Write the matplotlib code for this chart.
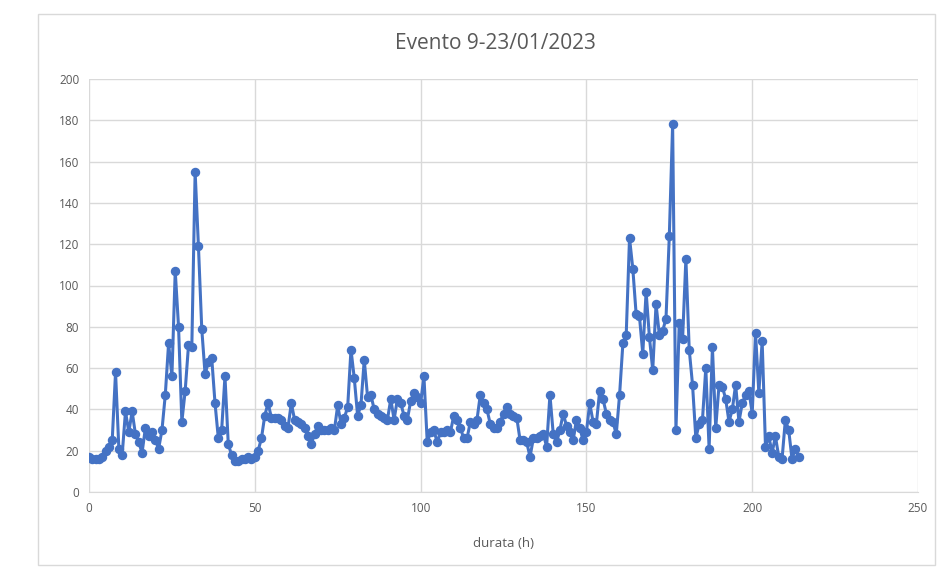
import matplotlib
matplotlib.use("Agg")
import matplotlib.pyplot as plt
from matplotlib.patches import Rectangle

# portata oraria, evento 9-23/01/2023
ore = list(range(0, 215))
valori = [
    17, 16, 16, 16, 17, 20, 22, 25, 58, 21,
    18, 39, 29, 39, 28, 24, 19, 31, 27, 29,
    25, 21, 30, 47, 72, 56, 107, 80, 34, 49,
    71, 70, 155, 119, 79, 57, 63, 65, 43, 26,
    30, 56, 23, 18, 15, 15, 16, 16, 17, 16,
    17, 20, 26, 37, 43, 36, 36, 36, 35, 32,
    31, 43, 35, 34, 33, 31, 27, 23, 28, 32,
    30, 30, 30, 31, 30, 42, 33, 36, 41, 69,
    55, 37, 42, 64, 46, 47, 40, 38, 37, 36,
    35, 45, 35, 45, 43, 37, 35, 44, 48, 46,
    43, 56, 24, 29, 30, 24, 29, 29, 30, 29,
    37, 35, 31, 26, 26, 34, 33, 35, 47, 43,
    40, 33, 31, 31, 34, 38, 41, 38, 37, 36,
    25, 25, 24, 17, 26, 26, 27, 28, 22, 47,
    28, 24, 30, 38, 32, 29, 25, 35, 31, 25,
    29, 43, 34, 33, 49, 45, 38, 35, 34, 28,
    47, 72, 76, 123, 108, 86, 85, 67, 97, 75,
    59, 91, 76, 78, 84, 124, 178, 30, 82, 74,
    113, 69, 52, 26, 33, 35, 60, 21, 70, 31,
    52, 51, 45, 34, 40, 52, 34, 43, 47, 49,
    38, 77, 48, 73, 22, 27, 19, 27, 17, 16,
    35, 30, 16, 21, 17,
]
titolo = "Evento 9-23/01/2023"
x_ticks = [0, 50, 100, 150, 200, 250]
y_ticks = list(range(0, 201, 20))

blu = "#4472C4"
grigio_testo = "#595959"
grigio_griglia = "#D9D9D9"

plt.rcParams["font.family"] = ["Open Sans", "DejaVu Sans"]

fig = plt.figure(figsize=(9.52, 5.71), dpi=100)
ax = fig.add_axes([0.0935, 0.1384, 0.8708, 0.7232])

# cornice del grafico
fig.patches.append(Rectangle((0.040, 0.010), 0.942, 0.965, transform=fig.transFigure,
                             fill=False, edgecolor=grigio_griglia, linewidth=1))

ax.plot(ore, valori, color=blu, linewidth=2.2, marker="o", markersize=5.8,
        markerfacecolor=blu, markeredgecolor=blu, zorder=3)

ax.set_xlim(0, 250)
ax.set_ylim(0, 200)
ax.set_xticks(x_ticks)
ax.set_yticks(y_ticks)
ax.grid(True, color=grigio_griglia, linewidth=1)
ax.set_axisbelow(True)
for s in ["top", "right", "left"]:
    ax.spines[s].set_visible(False)
ax.spines["bottom"].set_color(grigio_griglia)
ax.tick_params(length=0, colors=grigio_testo, labelsize=8.5, pad=7)

fig.text(0.52, 0.923, titolo, color=grigio_testo, fontsize=15,
         ha="center", va="center")
ax.set_xlabel("durata (h)", color=grigio_testo, fontsize=9.5, labelpad=16)

fig.savefig("out.png", dpi=100)
